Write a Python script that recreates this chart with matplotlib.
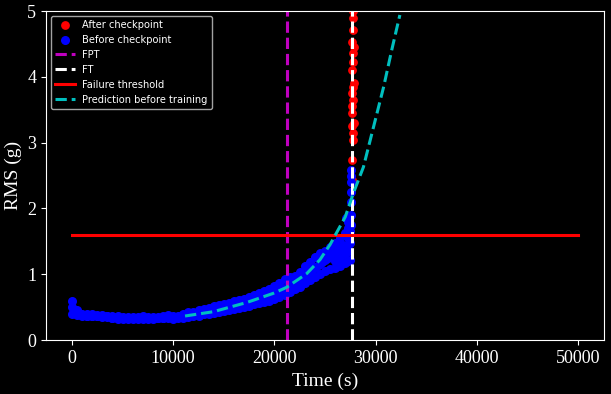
import matplotlib.pyplot as plt

plt.style.use("dark_background")

# before checkpoint (blue) samples: low / mid / high edge of the band
blue_t = [0, 500, 1000, 1500, 2000, 2500, 3000, 3500, 4000, 4500,
          5000, 5500, 6000, 6500, 7000, 7500, 8000, 8500, 9000, 9500,
          10000, 10500, 11000, 11500, 12000, 12500, 13000, 13500, 14000, 14500,
          15000, 15500, 16000, 16500, 17000, 17500, 18000, 18500, 19000, 19500,
          20000, 20500, 21000, 21500, 22000, 22500, 23000, 23500, 24000, 24500,
          25000, 25500, 26000, 26500, 27000, 27300, 27500]
blue_low = [0.40, 0.38, 0.37, 0.36, 0.36, 0.36, 0.35, 0.35, 0.33, 0.32,
            0.32, 0.32, 0.32, 0.32, 0.32, 0.32, 0.32, 0.33, 0.33, 0.33,
            0.32, 0.33, 0.34, 0.35, 0.36, 0.37, 0.39, 0.40, 0.41, 0.43,
            0.44, 0.46, 0.47, 0.48, 0.50, 0.52, 0.54, 0.56, 0.58, 0.60,
            0.63, 0.66, 0.69, 0.73, 0.77, 0.81, 0.86, 0.91, 0.96, 1.01,
            1.05, 1.08, 1.10, 1.13, 1.17, 1.20, 1.22]
blue_mid = [0.50, 0.41, 0.38, 0.37, 0.37, 0.37, 0.36, 0.36, 0.34, 0.34,
            0.33, 0.33, 0.33, 0.33, 0.34, 0.33, 0.33, 0.34, 0.34, 0.35,
            0.35, 0.35, 0.36, 0.38, 0.39, 0.41, 0.42, 0.44, 0.46, 0.47,
            0.49, 0.51, 0.52, 0.54, 0.56, 0.58, 0.61, 0.63, 0.66, 0.69,
            0.72, 0.75, 0.79, 0.83, 0.87, 0.92, 0.98, 1.04, 1.10, 1.16,
            1.22, 1.27, 1.30, 1.36, 1.42, 1.45, 1.48]
blue_high = [0.60, 0.45, 0.40, 0.39, 0.39, 0.38, 0.38, 0.37, 0.36, 0.36,
             0.35, 0.35, 0.35, 0.35, 0.36, 0.35, 0.35, 0.35, 0.36, 0.38,
             0.37, 0.37, 0.40, 0.42, 0.43, 0.45, 0.47, 0.49, 0.51, 0.53,
             0.55, 0.57, 0.59, 0.61, 0.62, 0.65, 0.68, 0.71, 0.74, 0.78,
             0.82, 0.86, 0.92, 0.96, 0.98, 1.04, 1.12, 1.18, 1.26, 1.32,
             1.36, 1.42, 1.48, 1.55, 1.62, 1.80, 1.65]
# extra samples filling the wide part of the band near failure
fill_t = [22750, 23250, 23750, 24250, 24750, 25250, 25750, 26250, 26750,
          27250, 26000, 26500, 27000, 27400, 27100, 27300]
fill_rms = [0.92, 1.00, 1.06, 1.13, 1.19, 1.25, 1.31, 1.38, 1.45,
            1.55, 1.20, 1.25, 1.30, 1.35, 1.85, 1.70]
spike_t = [27550, 27550, 27550, 27550, 27550, 27550, 27550]
spike_rms = [1.75, 1.90, 2.10, 2.25, 2.40, 2.50, 2.58]

# after checkpoint (red) samples
red_t = [27650, 27700, 27800, 27750, 27700, 27850, 27700, 27650, 27800, 27700,
         27750, 27900, 27700, 27800, 27750, 27850, 27700, 27800, 27750, 27800,
         27750, 27800]
red_rms = [2.43, 2.74, 3.04, 3.15, 3.25, 3.30, 3.45, 3.55, 3.65, 3.75,
           3.85, 3.90, 4.10, 4.22, 4.36, 4.45, 4.53, 4.71, 4.90, 5.00,
           5.20, 5.50]

# prediction curve
pred_t = [11170, 13960, 17260, 19900, 21200, 23200, 24500, 25500,
          27000, 27800, 28800, 29800, 30800, 31600, 32400]
pred_rms = [0.365, 0.43, 0.57, 0.71, 0.80, 1.01, 1.22, 1.45,
            1.87, 2.23, 2.63, 3.24, 3.85, 4.41, 4.94]

fpt = 21250
ft = 27670
threshold = 1.6
t_end = 50000

fig, ax = plt.subplots(figsize=(6.11, 3.94), dpi=100)
fig.subplots_adjust(left=0.0753, right=0.9885, top=0.972, bottom=0.137)

ax.scatter(red_t, red_rms, color="r", s=28, label="After checkpoint")
ax.scatter(blue_t, blue_low, color="b", s=30, label="Before checkpoint")
ax.scatter(blue_t, blue_mid, color="b", s=30)
ax.scatter(blue_t, blue_high, color="b", s=30)
ax.scatter(fill_t, fill_rms, color="b", s=30)
ax.scatter(spike_t, spike_rms, color="b", s=30)
ax.axvline(fpt, color="m", linestyle="--", linewidth=2.2, label="FPT")
ax.axvline(ft, color="w", linestyle="--", linewidth=2.2, label="FT")
ax.plot([0, t_end], [threshold, threshold], color="r", linewidth=2.2,
        label="Failure threshold")
ax.plot(pred_t, pred_rms, color="c", linestyle="--", linewidth=2.2,
        label="Prediction before training")

ax.set_ylim(0, 5)
ax.set_xlim(-2570, 52570)
ax.set_xlabel("Time (s)", fontfamily="Liberation Serif", fontsize=14)
ax.set_ylabel("RMS (g)", fontfamily="Liberation Serif", fontsize=14)
for lab in ax.get_xticklabels() + ax.get_yticklabels():
    lab.set_fontfamily("Liberation Serif")
    lab.set_fontsize(13)

ax.legend(loc="upper left", fontsize=7.1)

plt.savefig("out.png", dpi=100)
